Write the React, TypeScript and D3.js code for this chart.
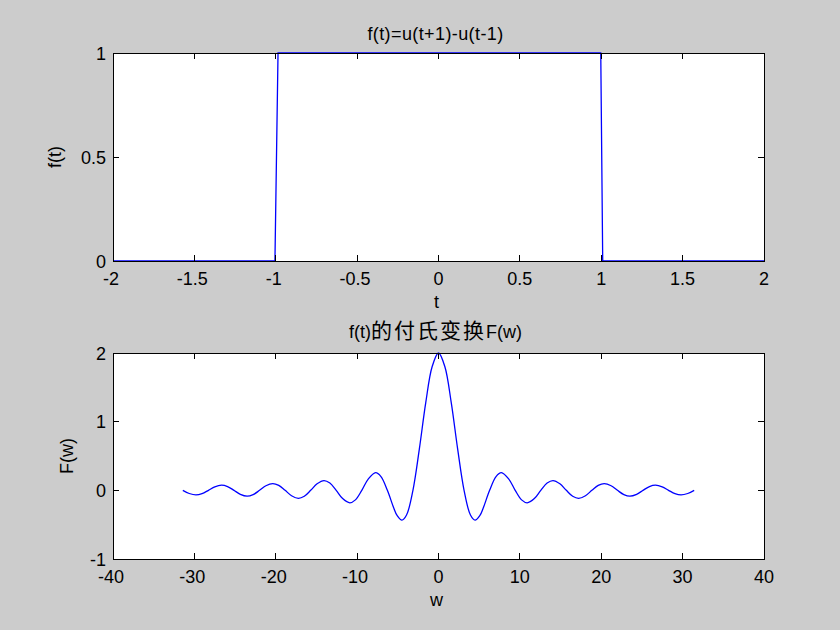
import React from "react";
import * as d3 from "d3";

// ---- Data: top subplot, rectangular pulse f(t)=u(t+1)-u(t-1) ----
const tValues = [-2, -1.005, -0.986, 0.997, 1.009, 2];
const fValues = [0, 0, 1, 1, 0, 0];
const tTicks = [-2, -1.5, -1, -0.5, 0, 0.5, 1, 1.5, 2];
const fTicks = [0, 0.5, 1];

// ---- Data: bottom subplot, Fourier transform F(w) ----
const wValues = [
  -31.42, -30.63, -29.81, -29.06, -28.27, -27.49, -26.67, -25.92, -25.13, -24.35,
  -23.52, -22.78, -21.99, -21.21, -20.37, -19.63, -18.85, -18.06, -17.22, -16.49,
  -15.71, -14.92, -14.07, -13.35, -12.57, -11.78, -10.9, -10.21, -9.425, -8.639,
  -7.725, -7.069, -6.283, -5.498, -5.11, -4.49, -3.927, -3.142, -2.356, -1.571,
  -0.785, 0, 0.785, 1.571, 2.356, 3.142, 3.927, 4.49, 5.11, 5.498,
  6.283, 7.069, 7.725, 8.639, 9.425, 10.21, 10.9, 11.78, 12.57, 13.35,
  14.07, 14.92, 15.71, 16.49, 17.22, 18.06, 18.85, 19.63, 20.37, 21.21,
  21.99, 22.78, 23.52, 24.35, 25.13, 25.92, 26.67, 27.49, 28.27, 29.06,
  29.81, 30.63, 31.42,
];
const FwValues = [
  0, -0.046, -0.067, -0.049, 0, 0.051, 0.075, 0.055, 0, -0.058,
  -0.085, -0.062, 0, 0.067, 0.098, 0.072, 0, -0.078, -0.116, -0.086,
  0, 0.095, 0.142, 0.106, 0, -0.12, -0.182, -0.139, 0, 0.164,
  0.257, 0.2, 0, -0.257, -0.361, -0.434, -0.36, 0, 0.6, 1.273,
  1.8, 2, 1.8, 1.273, 0.6, 0, -0.36, -0.434, -0.361, -0.257,
  0, 0.2, 0.257, 0.164, 0, -0.139, -0.182, -0.12, 0, 0.106,
  0.142, 0.095, 0, -0.086, -0.116, -0.078, 0, 0.072, 0.098, 0.067,
  0, -0.062, -0.085, -0.058, 0, 0.055, 0.075, 0.051, 0, -0.049,
  -0.067, -0.046, 0,
];
const wTicks = [-40, -30, -20, -10, 0, 10, 20, 30, 40];
const FTicks = [-1, 0, 1, 2];

const W = 840;
const H = 630;
const LEFT = 113;
const RIGHT = 764;
const FONT = "'Liberation Sans', Arial, sans-serif";
const CJK = "'Noto Sans CJK SC', 'Liberation Sans', sans-serif";
const TICK = 6;

type AxesProps = {
  top: number;
  bottom: number;
  xDomain: [number, number];
  yDomain: [number, number];
  xTicks: number[];
  yTicks: number[];
  xs: number[];
  ys: number[];
  smooth: boolean;
  xLabel: string;
  yLabel: string;
  yLabelX: number;
  title: React.ReactNode;
  titleY: number;
};

function Axes(p: AxesProps) {
  const x = d3.scaleLinear().domain(p.xDomain).range([LEFT, RIGHT]);
  const y = d3.scaleLinear().domain(p.yDomain).range([p.bottom, p.top]);
  const pts: [number, number][] = p.xs.map((v, i) => [v, p.ys[i]]);
  const line = d3
    .line<[number, number]>()
    .x((d) => x(d[0]))
    .y((d) => y(d[1]))
    .curve(p.smooth ? d3.curveCatmullRom.alpha(0.5) : d3.curveLinear);
  const fmt = (v: number) => String(v);
  const cx = (LEFT + RIGHT) / 2;
  return (
    <g>
      <rect x={LEFT} y={p.top} width={RIGHT - LEFT} height={p.bottom - p.top} fill="#ffffff" />
      <path d={line(pts) || ""} fill="none" stroke="#0000ff" strokeWidth={1.3} />
      <g stroke="#000" strokeWidth={1} shapeRendering="crispEdges">
        <rect x={LEFT} y={p.top} width={RIGHT - LEFT} height={p.bottom - p.top} fill="none" />
        {p.xTicks.map((t) => (
          <g key={"xt" + t}>
            <line x1={x(t)} x2={x(t)} y1={p.bottom} y2={p.bottom - TICK} />
            <line x1={x(t)} x2={x(t)} y1={p.top} y2={p.top + TICK} />
          </g>
        ))}
        {p.yTicks.map((t) => (
          <g key={"yt" + t}>
            <line x1={LEFT} x2={LEFT + TICK} y1={y(t)} y2={y(t)} />
            <line x1={RIGHT} x2={RIGHT - TICK} y1={y(t)} y2={y(t)} />
          </g>
        ))}
      </g>
      <g fontFamily={FONT} fontSize={18} fill="#000">
        {p.xTicks.map((t) => (
          <text key={"xl" + t} x={x(t) - (t < 0 ? 2 : 0)} y={p.bottom + 24} textAnchor="middle">
            {fmt(t)}
          </text>
        ))}
        {p.yTicks.map((t) => (
          <text key={"yl" + t} x={LEFT - 7} y={y(t) + 6.5} textAnchor="end">
            {fmt(t)}
          </text>
        ))}
        <text x={cx - 2} y={p.bottom + 47} textAnchor="middle">
          {p.xLabel}
        </text>
        <text
          transform={`translate(${p.yLabelX},${(p.top + p.bottom) / 2}) rotate(-90)`}
          textAnchor="middle"
        >
          {p.yLabel}
        </text>
        <text x={cx - 3} y={p.titleY} textAnchor="middle">
          {p.title}
        </text>
      </g>
    </g>
  );
}

export default function App() {
  return (
    <svg
      width={W}
      height={H}
      viewBox={`0 0 ${W} ${H}`}
      style={{ position: "absolute", left: 0, top: 0, display: "block" }}
    >
      <rect x={0} y={0} width={W} height={H} fill="#cccccc" />
      <Axes
        top={53}
        bottom={261}
        xDomain={[-2, 2]}
        yDomain={[0, 1]}
        xTicks={tTicks}
        yTicks={fTicks}
        xs={tValues}
        ys={fValues}
        smooth={false}
        xLabel="t"
        yLabel="f(t)"
        yLabelX={61}
        title={<tspan letterSpacing={0.4}>f(t)=u(t+1)-u(t-1)</tspan>}
        titleY={40}
      />
      <Axes
        top={353}
        bottom={559}
        xDomain={[-40, 40]}
        yDomain={[-1, 2]}
        xTicks={wTicks}
        yTicks={FTicks}
        xs={wValues}
        ys={FwValues}
        smooth={true}
        xLabel="w"
        yLabel="F(w)"
        yLabelX={73}
        title={
          <>
            <tspan>f(t)</tspan>
            <tspan fontFamily={CJK} fontSize={21} letterSpacing={2}>
              的付氏变换
            </tspan>
            <tspan>F(w)</tspan>
          </>
        }
        titleY={338}
      />
    </svg>
  );
}
